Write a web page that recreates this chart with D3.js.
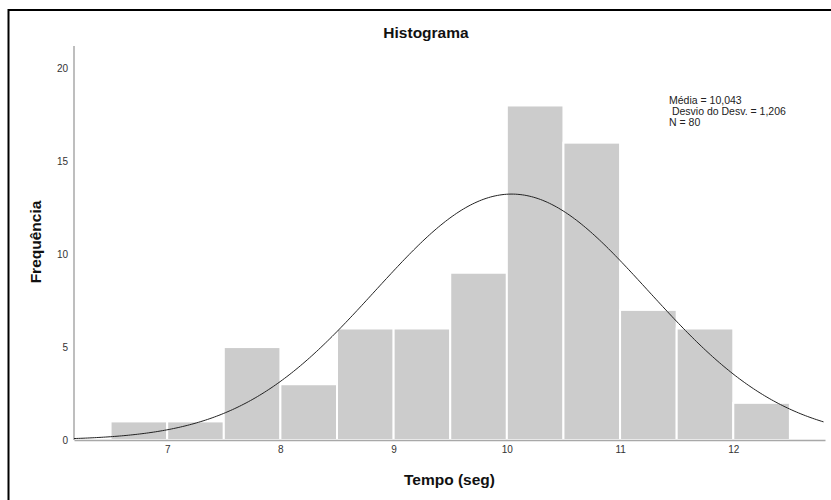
<!DOCTYPE html>
<html>
<head>
<meta charset="utf-8">
<script src="https://cdn.jsdelivr.net/npm/d3@7"></script>
<style>
  body { margin: 0; background: #ffffff; }
  text { font-family: "Liberation Sans", Arial, sans-serif; }
</style>
</head>
<body>
<div id="chart"></div>
<script>
let width = 831;
let height = 500;

// histogram bins (left edge) and counts
let binStarts = [6.5, 7, 7.5, 8, 8.5, 9, 9.5, 10, 10.5, 11, 11.5, 12];
let binWidth = 0.5;
let counts = [1, 1, 5, 3, 6, 6, 9, 18, 16, 7, 6, 2];
let xTicks = [7, 8, 9, 10, 11, 12];
let yTicks = [0, 5, 10, 15, 20];
let stats = { mean: 10.043, sd: 1.206, n: 80 };
let statLines = ["Média = 10,043", " Desvio do Desv. = 1,206", "N = 80"];

let svg = d3.select("#chart")
  .append("svg")
  .attr("width", width)
  .attr("height", height);

// outer frame (runs off the right and bottom edges)
svg.append("rect")
  .attr("x", 8.5)
  .attr("y", 10)
  .attr("width", 840)
  .attr("height", 520)
  .attr("fill", "none")
  .attr("stroke", "#000")
  .attr("stroke-width", 2);

let xscale = d3.scaleLinear()
  .domain([6.177, 12.81])
  .range([74, 825]);
let yscale = d3.scaleLinear()
  .domain([0, 20])
  .range([440, 68.3]);

// bars
svg.append("g")
  .selectAll("rect")
  .data(binStarts)
  .enter()
  .append("rect")
  .attr("x", d => xscale(d))
  .attr("y", (d, i) => yscale(counts[i]))
  .attr("width", d => xscale(d + binWidth) - xscale(d))
  .attr("height", (d, i) => yscale(0) - yscale(counts[i]))
  .attr("fill", "#cccccc")
  .attr("stroke", "#ffffff")
  .attr("stroke-width", 2);

// axes
let xAxis = svg.append("g")
  .attr("transform", `translate(0, ${yscale(0)})`)
  .call(d3.axisBottom(xscale).tickValues(xTicks).tickSize(0).tickPadding(6).tickFormat(d3.format("d")));
let yAxis = svg.append("g")
  .attr("transform", `translate(${xscale.range()[0]}, 0)`)
  .call(d3.axisLeft(yscale).tickValues(yTicks).tickSize(0).tickPadding(6));

yAxis.select(".domain").attr("d", `M0,${yscale(0)}V46`);

[xAxis, yAxis].forEach(ax => {
  ax.select(".domain")
    .attr("stroke", "#a8a8a8")
    .attr("stroke-width", 1.5);
  ax.selectAll("text")
    .attr("fill", "#333")
    .attr("font-size", 10)
    .attr("font-family", "Liberation Sans, Arial, sans-serif");
});

// normal curve
let scaleFactor = stats.n * binWidth / (stats.sd * Math.sqrt(2 * Math.PI));
let curvePts = d3.range(xscale.domain()[0], xscale.domain()[1] + 0.001, 0.02)
  .map(x => [x, scaleFactor * Math.exp(-0.5 * ((x - stats.mean) / stats.sd) ** 2)]);

svg.append("path")
  .attr("d", d3.line().x(d => xscale(d[0])).y(d => yscale(d[1]))(curvePts))
  .attr("fill", "none")
  .attr("stroke", "#222")
  .attr("stroke-width", 1);

// titles
svg.append("text")
  .attr("x", 426)
  .attr("y", 38)
  .attr("text-anchor", "middle")
  .attr("font-size", 15.5)
  .attr("font-weight", "bold")
  .attr("fill", "#111")
  .text("Histograma");

svg.append("text")
  .attr("x", 449.5)
  .attr("y", 485)
  .attr("text-anchor", "middle")
  .attr("font-size", 15.5)
  .attr("font-weight", "bold")
  .attr("fill", "#111")
  .text("Tempo (seg)");

svg.append("text")
  .attr("transform", `translate(41, 242) rotate(-90)`)
  .attr("text-anchor", "middle")
  .attr("font-size", 15.5)
  .attr("font-weight", "bold")
  .attr("fill", "#111")
  .text("Frequência");

// stats box
svg.append("g")
  .selectAll("text")
  .data(statLines)
  .enter()
  .append("text")
  .attr("x", 669)
  .attr("y", (d, i) => 104 + i * 11)
  .attr("font-size", 10.5)
  .attr("fill", "#222")
  .attr("xml:space", "preserve")
  .style("white-space", "pre")
  .text(d => d);
</script>
</body>
</html>
